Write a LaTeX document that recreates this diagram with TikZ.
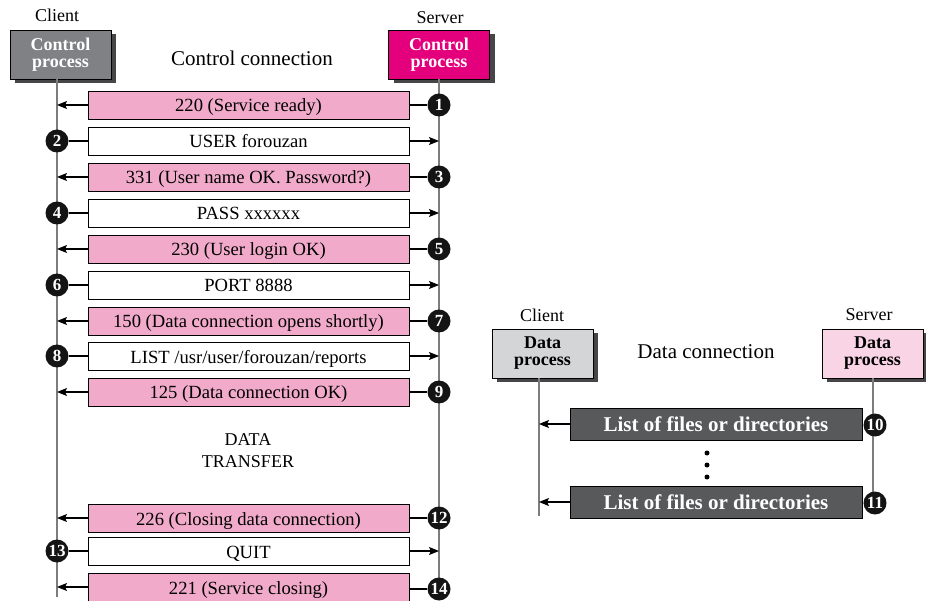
\documentclass[tikz,border=0pt]{standalone}
\usepackage{fontspec}
\setmainfont{Liberation Serif}
\usetikzlibrary{arrows.meta,shadows}
\definecolor{ctrlgray}{RGB}{128,129,132}
\definecolor{ctrlmag}{RGB}{228,0,124}
\definecolor{msgpink}{RGB}{241,170,202}
\definecolor{datagray}{RGB}{212,213,215}
\definecolor{datapink}{RGB}{249,212,228}
\definecolor{listgray}{RGB}{88,89,91}
\definecolor{shadowgray}{RGB}{70,70,72}
\definecolor{linegray}{RGB}{125,125,125}
\begin{document}
\begin{tikzpicture}[x=1pt,y=-1pt,
  proc/.style={draw=black, line width=0.8pt, minimum width=101pt, minimum height=49pt, inner sep=0pt, align=center,
    font=\fontsize{18}{17}\selectfont\bfseries,
    drop shadow={shadow xshift=5pt,shadow yshift=-4pt,fill=shadowgray,opacity=1}},
  msg/.style={draw=black, line width=0.6pt, minimum width=321pt, minimum height=28pt, inner sep=0pt,
    text height=14pt, text depth=0pt, font=\fontsize{18.6}{20}\selectfont},
  listbox/.style={draw=black, line width=0.6pt, fill=listgray, text=white, minimum width=292pt, minimum height=32pt,
    inner sep=0pt, text height=15pt, text depth=0pt, font=\fontsize{21}{22}\selectfont\bfseries},
  num/.style={circle, fill=black!92, text=white, inner sep=0pt, minimum size=23pt,
    font=\fontsize{17}{17}\selectfont\bfseries},
  life/.style={linegray, line width=1.2pt},
  arr/.style={-{Stealth[length=10pt,width=8pt,inset=2pt]}, line width=1.1pt},
  conn/.style={line width=1.1pt},
  lbl/.style={font=\fontsize{18}{20}\selectfont, inner sep=0pt},
  title/.style={font=\fontsize{21}{22}\selectfont, inner sep=0pt},
  dot/.style={circle, fill=black, inner sep=0pt, minimum size=5pt}
]
\useasboundingbox (0,0) rectangle (926,601);

% ---------- control connection ----------
\node[lbl] (clientA) at (57,15) {Client};
\node[lbl] (serverA) at (440,18) {Server};
\node[proc, fill=ctrlgray, text=white] (cc) at (60.5,54.5) {Control\\process};
\node[proc, fill=ctrlmag, text=white] (sc) at (439,54.5) {Control\\process};
\node[title] (ctitle) at (252,58) {Control connection};

\coordinate (cl) at (57,597);
\coordinate (sl) at (439,597);
\draw[life] (cc.south -| cl) -- (cl);
\draw[life] (sc.south -| sl) -- (sl);

\node[msg, fill=msgpink] (m1) at (248.5,105) {220 (Service ready)};
\node[msg, fill=white] (m2) at (248.5,141) {USER forouzan};
\node[msg, fill=msgpink] (m3) at (248.5,177) {331 (User name OK. Password?)};
\node[msg, fill=white] (m4) at (248.5,213) {PASS xxxxxx};
\node[msg, fill=msgpink] (m5) at (248.5,249) {230 (User login OK)};
\node[msg, fill=white] (m6) at (248.5,285) {PORT 8888};
\node[msg, fill=msgpink] (m7) at (248.5,321) {150 (Data connection opens shortly)};
\node[msg, fill=white] (m8) at (248.5,356) {LIST /usr/user/forouzan/reports};
\node[msg, fill=msgpink] (m9) at (248.5,392) {125 (Data connection OK)};
\node[msg, fill=msgpink] (m12) at (248.5,518) {226 (Closing data connection)};
\node[msg, fill=white] (m13) at (248.5,551) {QUIT};
\node[msg, fill=msgpink] (m14) at (248.5,587) {221 (Service closing)};

\node[lbl, align=center] (dt) at (248,451) {DATA\\[2pt]TRANSFER};

% server-sent rows
\node[num] (n1) at (439,105) {1};
\node[num] (n3) at (439,177) {3};
\node[num] (n5) at (439,249) {5};
\node[num] (n7) at (439,321) {7};
\node[num] (n9) at (439,392) {9};
\node[num] (n12) at (439,518) {12};
\node[num] (n14) at (439,589) {14};
\foreach \k in {1,3,5,7,9,12,14}{
  \draw[conn] (n\k) -- (m\k.east |- n\k);
  \draw[arr] (m\k.west) -- (m\k.west -| cl);
}
% client-sent rows
\node[num] (n2) at (57,141) {2};
\node[num] (n4) at (57,213) {4};
\node[num] (n6) at (57,285) {6};
\node[num] (n8) at (57,356) {8};
\node[num] (n13) at (57,551) {13};
\foreach \k in {2,4,6,8,13}{
  \draw[conn] (n\k) -- (m\k);
  \draw[arr] (m\k.east) -- (m\k.east -| sl);
}

% ---------- data connection ----------
\node[lbl] (clientB) at (542,315) {Client};
\node[lbl] (serverB) at (869,315) {Server};
\node[proc, fill=datagray, text=black] (cd) at (542.5,353.5) {Data\\process};
\node[proc, fill=datapink, text=black] (sd) at (872.5,353.5) {Data\\process};
\node[title] (dtitle) at (706,352) {Data connection};

\coordinate (cdl) at (539,516);
\coordinate (sdl) at (873,503);
\draw[life] (cd.south -| cdl) -- (cdl);
\draw[life] (sd.south -| sdl) -- (sdl);

\node[listbox] (l10) at (716,424) {List of files or directories};
\node[listbox] (l11) at (716,502) {List of files or directories};
\node[num] (n10) at (875,425) {10};
\node[num] (n11) at (875,503) {11};
\draw[conn] (n10) -- (l10.east |- n10);
\draw[conn] (n11) -- (l11.east |- n11);
\draw[arr] (l10.west) -- (l10.west -| cdl);
\draw[arr] (l11.west) -- (l11.west -| cdl);

\node[dot] (d1) at (707,453) {};
\node[dot] (d2) at (707,465) {};
\node[dot] (d3) at (707,477) {};
\end{tikzpicture}
\end{document}
